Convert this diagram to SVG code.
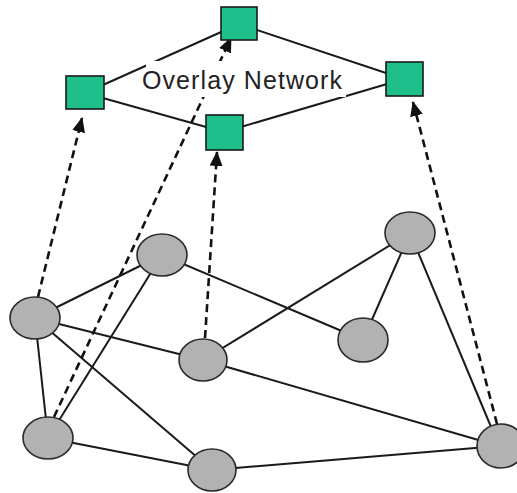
<svg xmlns="http://www.w3.org/2000/svg" width="517" height="493" viewBox="0 0 517 493">
<style>
.e{stroke:#1a1a1a;stroke-width:2;fill:none}
.d{stroke:#111;stroke-width:2.6;stroke-dasharray:8 5;fill:none}
.sq{fill:#1fbf8c;stroke:#1a1a1a;stroke-width:1.6}
.c{fill:#b2b2b2;stroke:#2a2a2a;stroke-width:1.6}
.t{font-family:"Liberation Sans",Arial,sans-serif;font-size:25px;fill:#222}
</style>
<defs>
<marker id="ah" markerUnits="userSpaceOnUse" markerWidth="15" markerHeight="13" refX="14" refY="6.5" orient="auto">
<path d="M0,0 L15,6.5 L0,13 z" fill="#111"/>
</marker>
</defs>
<rect width="517" height="493" fill="#fff"/>
<g id="connectors">
<line class="e" x1="35" y1="318" x2="162" y2="255"/>
<line class="e" x1="35" y1="318" x2="203" y2="360"/>
<line class="e" x1="35" y1="318" x2="48" y2="438"/>
<line class="e" x1="35" y1="318" x2="212" y2="470"/>
<line class="e" x1="162" y1="255" x2="48" y2="438"/>
<line class="e" x1="162" y1="255" x2="363" y2="340"/>
<line class="e" x1="203" y1="360" x2="410" y2="233"/>
<line class="e" x1="203" y1="360" x2="499" y2="446"/>
<line class="e" x1="48" y1="438" x2="212" y2="470"/>
<line class="e" x1="212" y1="470" x2="499" y2="446"/>
<line class="e" x1="410" y1="233" x2="363" y2="340"/>
<line class="e" x1="410" y1="233" x2="499" y2="446"/>
<line class="e" x1="85" y1="93" x2="239" y2="24"/>
<line class="e" x1="239" y1="24" x2="404" y2="79"/>
<line class="e" x1="85" y1="93" x2="224" y2="132"/>
<line class="e" x1="224" y1="132" x2="404" y2="79"/>
<line class="d" x1="38" y1="297" x2="82" y2="118" marker-end="url(#ah)"/>
<line class="d" x1="54" y1="417" x2="231" y2="38" marker-end="url(#ah)"/>
<line class="d" x1="205" y1="338" x2="217" y2="152" marker-end="url(#ah)"/>
<line class="d" x1="497" y1="424" x2="413" y2="102" marker-end="url(#ah)"/>
</g>
<g id="label">
<rect x="146" y="61" width="200" height="36" fill="#fff"/>
<text class="t" x="142" y="89" textLength="200" lengthAdjust="spacing">Overlay Network</text>
</g>
<g id="sq-top"><rect class="sq" x="221" y="7" width="36" height="33"/></g>
<g id="sq-left"><rect class="sq" x="66" y="76" width="38" height="33"/></g>
<g id="sq-mid"><rect class="sq" x="206" y="115" width="37" height="35"/></g>
<g id="sq-right"><rect class="sq" x="386" y="62" width="37" height="34"/></g>
<g id="n-a"><ellipse class="c" cx="35" cy="318" rx="25" ry="21"/></g>
<g id="n-b"><ellipse class="c" cx="162" cy="255" rx="25" ry="21"/></g>
<g id="n-c"><ellipse class="c" cx="203" cy="360" rx="24" ry="21"/></g>
<g id="n-d"><ellipse class="c" cx="48" cy="438" rx="25" ry="21"/></g>
<g id="n-e"><ellipse class="c" cx="212" cy="470" rx="24" ry="21"/></g>
<g id="n-f"><ellipse class="c" cx="410" cy="233" rx="25" ry="21"/></g>
<g id="n-g"><ellipse class="c" cx="363" cy="340" rx="25" ry="22"/></g>
<g id="n-h"><ellipse class="c" cx="501" cy="446" rx="24" ry="22"/></g>
</svg>
